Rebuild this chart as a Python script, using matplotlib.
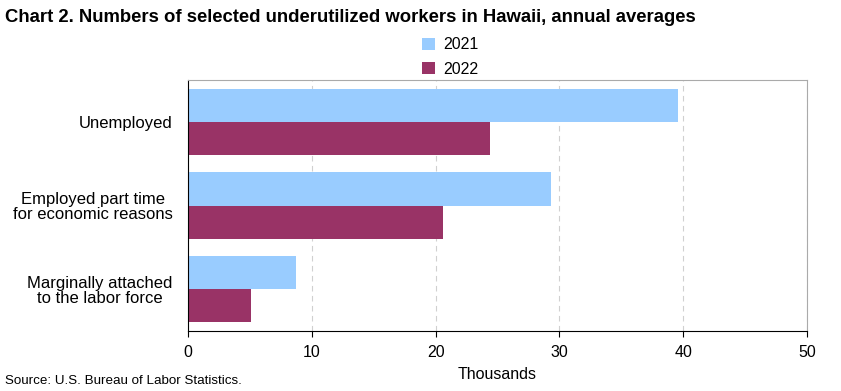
import matplotlib
matplotlib.use('Agg')
import matplotlib.pyplot as plt
import numpy as np

categories = ['Unemployed', 'Employed part time\nfor economic reasons', 'Marginally attached\nto the labor force']
years = ['2021', '2022']
vals_2021 = [39.6, 29.3, 8.7]
vals_2022 = [24.4, 20.6, 5.1]
colors = ['#99CCFF', '#993366']

plt.rcParams['font.family'] = ['Liberation Sans', 'DejaVu Sans']

fig = plt.figure(figsize=(8.41, 3.91), dpi=100)
ax = fig.add_axes([188/841, 60/391, 619/841, 251/391])

y = np.arange(len(categories))
h = 0.395
ax.barh(y - h/2, vals_2021, height=h, color=colors[0], label=years[0], zorder=2)
ax.barh(y + h/2, vals_2022, height=h, color=colors[1], label=years[1], zorder=2)

ax.set_xlim(0, 50)
ax.set_ylim(2.5, -0.5)
ax.set_xticks([0, 10, 20, 30, 40, 50])
ax.set_yticks(y)
ax.set_yticklabels(categories, fontsize=12, multialignment='center', linespacing=1.0)
ax.tick_params(axis='y', length=0, pad=11)
ax.tick_params(axis='x', labelsize=11.5, length=4, direction='out', pad=6)
ax.grid(axis='x', color='#d0d0d0', linestyle=(0, (5, 4)), linewidth=0.8, zorder=0)
for s in ['top', 'right']:
    ax.spines[s].set_color('#aaaaaa')
for s in ['left', 'bottom']:
    ax.spines[s].set_color('black')

ax.set_xlabel('Thousands', fontsize=11.5, labelpad=5)

fig.text(5/841, 1 - 18/391, 'Chart 2. Numbers of selected underutilized workers in Hawaii, annual averages',
         fontsize=13.3, fontweight='bold', va='center', ha='left')
fig.text(5/841, 1 - 381/391, 'Source: U.S. Bureau of Labor Statistics.', fontsize=9.6, va='center', ha='left')

leg = ax.legend(loc='center', bbox_to_anchor=(450/841, 1 - 57/391), bbox_transform=fig.transFigure,
                ncol=1, frameon=False, fontsize=11.5, handlelength=0.8, handleheight=0.8,
                handletextpad=0.5, labelspacing=0.6)

fig.savefig('out.png', dpi=100)
